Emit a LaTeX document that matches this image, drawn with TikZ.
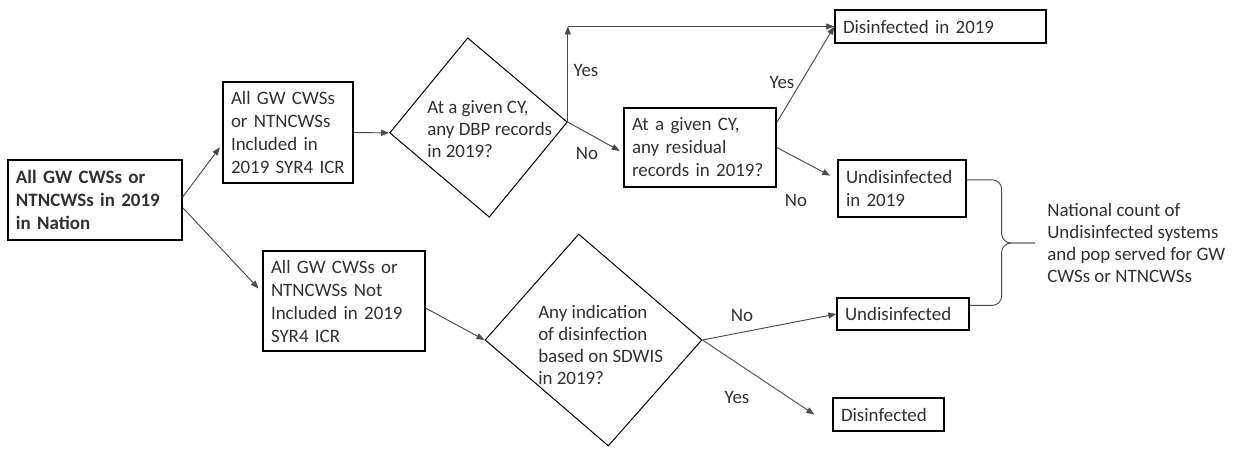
\documentclass[tikz,border=0pt]{standalone}
\usepackage{fontspec}
\setmainfont{Carlito}
\usepackage{xcolor}
\usepackage{tikz}
\usetikzlibrary{arrows.meta, positioning, shapes.geometric, calc}
\definecolor{ink}{HTML}{303030}
\definecolor{wire}{HTML}{4A4A4A}
\tikzset{
  flow box/.style={
    draw=black,
    line width=1.1pt,
    align=left,
    inner xsep=6pt,
    inner ysep=0pt,
    text=ink,
    font=\fontsize{14.2}{17.25}\selectfont
  },
  decision/.style={
    diamond,
    draw=black,
    line width=0.75pt,
    inner sep=0pt
  },
  decision text/.style={
    align=left, inner sep=0pt, text=ink,
    font=\fontsize{14.2}{16.5}\selectfont
  },
  flow arrow/.style={
    -{Triangle[length=6pt,width=4.5pt]},
    line width=0.7pt,
    color=wire
  },
  branch/.style={text=ink, inner sep=0pt, font=\fontsize{14.2}{17}\selectfont},
  bracket line/.style={line width=0.7pt, color=wire, rounded corners=7pt},
  note/.style={align=left, inner sep=0pt, text=ink, font=\fontsize{14.2}{16.5}\selectfont}
}

\begin{document}
\begin{tikzpicture}[x=0.75pt, y=-0.75pt]
  \useasboundingbox (0,0) rectangle (1233,452);

  % Source
  \node[flow box, text width=118.5pt, minimum height=60pt] (start) at (95,200)
    {\bfseries All GW CWSs or\\NTNCWSs in 2019\\in Nation};

  % Included branch
  \node[flow box, text width=85.5pt, minimum height=75.75pt] (boxA) at (288,132.5)
    {All GW CWSs\\or NTNCWSs\\Included in\\2019 SYR4 ICR};
  \node[decision, minimum width=134.25pt, minimum height=134.6pt, xslant=-0.12, yslant=0.06] (dbp) at (478.5,127.5) {};
  \node[decision text, anchor=west] (dbptext) at (427,129)
    {At a given CY,\\any DBP records\\in 2019?};
  \node[flow box, text width=102pt, minimum height=59.25pt] (resid) at (700,147.5)
    {At a given CY,\\any residual\\records in 2019?};
  \node[flow box, text width=146.25pt, minimum height=24.75pt] (dis2019) at (940.5,26.5)
    {Disinfected in 2019};
  \node[flow box, text width=84pt, minimum height=42.75pt] (undis2019) at (902,188.5)
    {Undisinfected\\in 2019};

  % Not included branch
  \node[flow box, text width=109.5pt, minimum height=75pt] (boxB) at (344,301)
    {All GW CWSs or\\NTNCWSs Not\\Included in 2019\\SYR4 ICR};
  \node[decision, minimum width=162.75pt, minimum height=159pt, xslant=-0.14] (ddis) at (593.5,340) {};
  \node[decision text, anchor=west] (ddistext) at (538,344.5)
    {Any indication\\of disinfection\\based on SDWIS\\in 2019?};
  \node[flow box, text width=87pt, minimum height=24pt] (undis) at (903,314)
    {Undisinfected};
  \node[flow box, text width=71.25pt, minimum height=24.75pt] (dis) at (888.5,414.5)
    {Disinfected};

  % Connectors
  \draw[flow arrow, shorten >=3pt] (start.2) -- (boxA.190);
  \draw[flow arrow, shorten >=4pt] (start.-5) -- (boxB.174);
  \draw[flow arrow] (boxA.east) -- (dbp.west);
  \coordinate (yesturn) at (dbp.east |- dis2019.west);
  \draw[flow arrow] (dbp.east) -- (yesturn);
  \draw[flow arrow] (yesturn) -- (dis2019.west);
  \draw[flow arrow, shorten >=3pt] (dbp.east) -- (resid.184);
  \draw[flow arrow] (resid.18) -- (dis2019.west);
  \draw[flow arrow, shorten >=6pt] (resid.east) -- (undis2019.172);
  \draw[flow arrow] (boxB.-5) -- (ddis.west);
  \draw[flow arrow] (ddis.east) -- (undis.west);
  \draw[flow arrow] (ddis.east) -- ([xshift=-13.5pt]dis.west);

  % Branch labels
  \node[branch] (yes1) at (586,70) {Yes};
  \node[branch] (no1) at (587,153) {No};
  \node[branch] (yes2) at (782,82) {Yes};
  \node[branch] (no2) at (796,200) {No};
  \node[branch] (no3) at (742,315) {No};
  \node[branch] (yes3) at (737,397) {Yes};

  % Brace and national count
  \coordinate (bracetip) at (1035,243);
  \draw[bracket line] ([yshift=6.5pt]undis2019.east) -| ([xshift=-25pt]bracetip) -- (bracetip);
  \draw[bracket line] ([yshift=6.5pt]undis.east) -| ([xshift=-25pt]bracetip) -- (bracetip);
  \node[note, right=9pt of bracetip] (natcount)
    {National count of\\Undisinfected systems\\and pop served for GW\\CWSs or NTNCWSs};
\end{tikzpicture}
\end{document}
